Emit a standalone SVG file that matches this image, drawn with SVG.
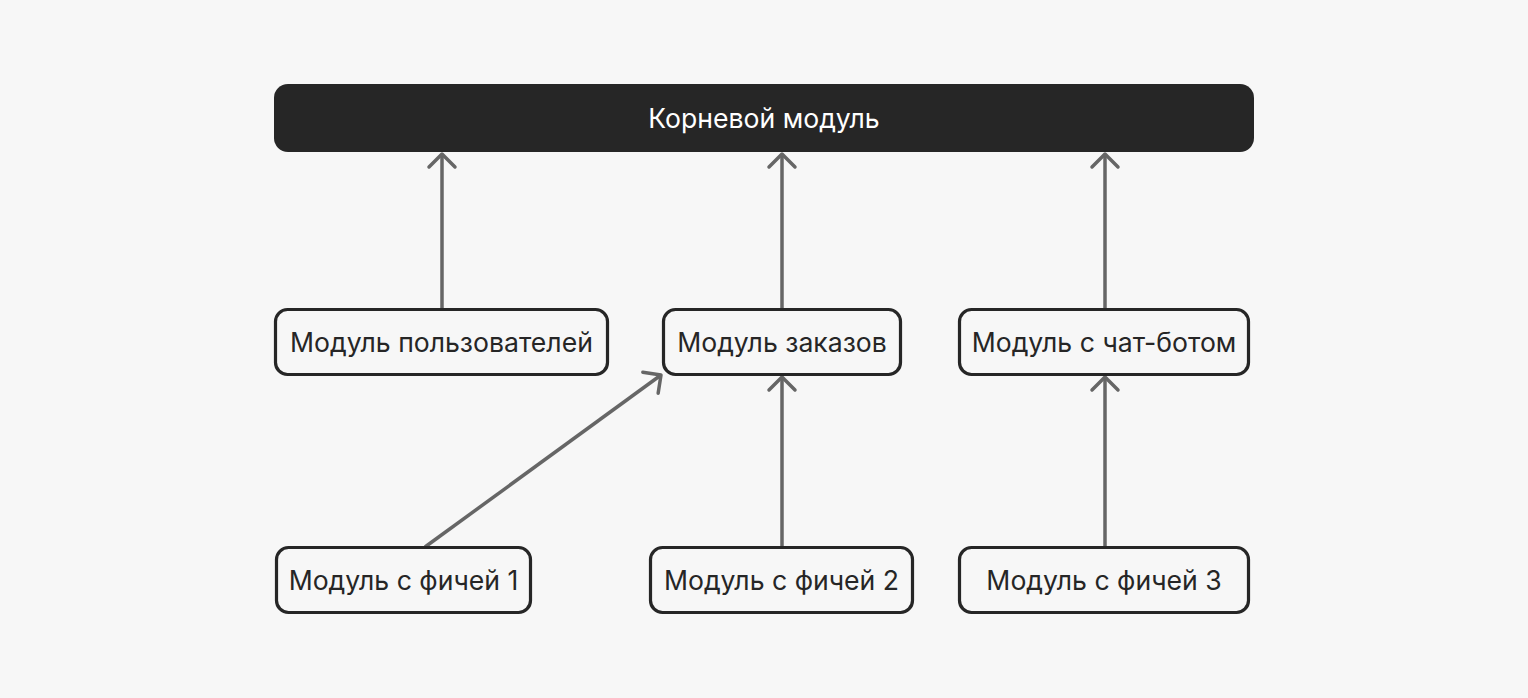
<svg xmlns="http://www.w3.org/2000/svg" width="1528" height="698" viewBox="0 0 1528 698">
<style>
.node rect{fill:#f7f7f7;stroke:#262626;stroke-width:3.2}
.node text{font-family:Inter,"Noto Sans",sans-serif;font-size:26.6px;fill:#262626;text-anchor:middle;dominant-baseline:central}
#root rect{fill:#262626;stroke:none}
#root text{fill:#ffffff}
.edge{stroke:#666666;stroke-width:3.5;fill:none;marker-end:url(#arr)}
</style>
<defs>
<marker id="arr" markerUnits="userSpaceOnUse" viewBox="-16 -16 20 32" refX="0" refY="0" markerWidth="20" markerHeight="32" orient="auto">
<path d="M -13 -13 L 0 0 L -13 13" fill="none" stroke="#666666" stroke-width="3.5" stroke-linecap="round" stroke-linejoin="round"/>
</marker>
</defs>
<rect width="1528" height="698" fill="#f7f7f7"/>
<g id="edges">
<path class="edge" d="M442 309 L442 154"/>
<path class="edge" d="M782 309 L782 154"/>
<path class="edge" d="M1105 309 L1105 154"/>
<path class="edge" d="M782 547 L782 377"/>
<path class="edge" d="M1105 547 L1105 377"/>
<path class="edge" d="M425 547 L661 375"/>
</g>
<g id="root" class="node"><rect x="274" y="84" width="980" height="68" rx="14"/><text x="764" y="118">Корневой модуль</text></g>
<g id="users" class="node"><rect x="275.5" y="309.5" width="332" height="65" rx="12"/><text x="441.5" y="342">Модуль пользователей</text></g>
<g id="orders" class="node"><rect x="663.5" y="309.5" width="237" height="65" rx="12"/><text x="782" y="342">Модуль заказов</text></g>
<g id="chatbot" class="node"><rect x="959.5" y="309.5" width="289" height="65" rx="12"/><text x="1104" y="342">Модуль с чат-ботом</text></g>
<g id="feat1" class="node"><rect x="276.5" y="547.5" width="254" height="65" rx="12"/><text x="403.5" y="580">Модуль с фичей 1</text></g>
<g id="feat2" class="node"><rect x="650.5" y="547.5" width="262" height="65" rx="12"/><text x="781.5" y="580">Модуль с фичей 2</text></g>
<g id="feat3" class="node"><rect x="959.5" y="547.5" width="289" height="65" rx="12"/><text x="1104" y="580">Модуль с фичей 3</text></g>
</svg>
